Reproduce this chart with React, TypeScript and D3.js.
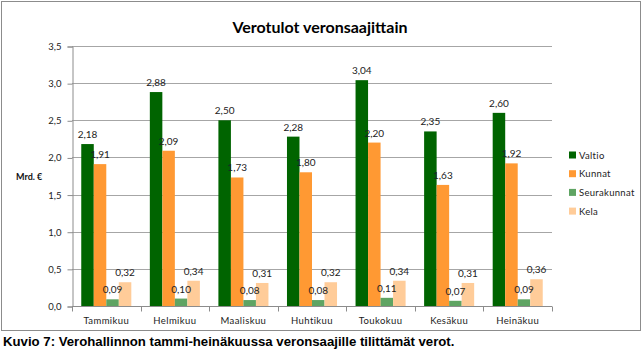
import * as d3 from "d3";
import React, { useRef, useEffect } from "react";

const months = ["Tammikuu", "Helmikuu", "Maaliskuu", "Huhtikuu", "Toukokuu", "Kesäkuu", "Heinäkuu"];
const seriesNames = ["Valtio", "Kunnat", "Seurakunnat", "Kela"];
const valtio = [2.18, 2.88, 2.5, 2.28, 3.04, 2.35, 2.6];
const kunnat = [1.91, 2.09, 1.73, 1.8, 2.2, 1.63, 1.92];
const seurakunnat = [0.09, 0.1, 0.08, 0.08, 0.11, 0.07, 0.09];
const kela = [0.32, 0.34, 0.31, 0.32, 0.34, 0.31, 0.36];
const yTicks = [0, 0.5, 1, 1.5, 2, 2.5, 3, 3.5];
const colors = ["#006400", "#ff9933", "#5fa463", "#ffcc99"];

function App() {
    const svgRef = useRef<SVGSVGElement>(null);
    const width = 644;
    const height = 351;
    const marginTop = 46; // top of plot
    const plotBottom = 306; // y of zero line
    const marginLeft = 72;
    const plotRight = 552;
    const font = "Lato, 'Open Sans', sans-serif";

    useEffect(() => {
        const svg = d3.select(svgRef.current);
        svg.selectAll("*").remove();

        const series = [valtio, kunnat, seurakunnat, kela];
        const fmt = (v: number) => v.toFixed(2).replace(".", ",");

        // frame
        svg.append("rect")
            .attr("x", 1.5).attr("y", 1.5)
            .attr("width", 639).attr("height", 329)
            .attr("fill", "white")
            .attr("stroke", "#8c8c8c")
            .attr("stroke-width", 1);

        const xScale = d3.scaleBand().domain(months).range([marginLeft, plotRight]);
        const xInner = d3.scaleBand().domain(seriesNames).range([0, xScale.bandwidth()]).paddingOuter(0.74);
        const yScale = d3.scaleLinear().domain([0, 3.5]).range([plotBottom, marginTop]);

        // gridlines
        svg.append("g")
            .selectAll("line")
            .data(yTicks.slice(1))
            .join("line")
            .attr("x1", marginLeft).attr("x2", plotRight)
            .attr("y1", d => Math.round(yScale(d)) + 0.5)
            .attr("y2", d => Math.round(yScale(d)) + 0.5)
            .attr("stroke", "#a6a6a6");

        // y axis
        const yAxis = d3.axisLeft(yScale)
            .tickValues(yTicks)
            .tickSize(5)
            .tickPadding(6)
            .tickFormat(d => (d as number).toFixed(1).replace(".", ","));
        const gy = svg.append("g")
            .attr("transform", `translate(${marginLeft + 0.5},0.5)`)
            .call(yAxis);
        gy.select(".domain").attr("stroke", "#8c8c8c");
        gy.selectAll(".tick line").attr("stroke", "#8c8c8c");
        gy.selectAll(".tick text")
            .attr("font-family", font)
            .attr("font-size", 9.5)
            .attr("fill", "#222");

        // x axis
        const gx = svg.append("g")
            .attr("transform", `translate(0,${plotBottom + 0.5})`);
        gx.append("line")
            .attr("x1", marginLeft).attr("x2", plotRight)
            .attr("stroke", "#8c8c8c");
        gx.selectAll(".xt")
            .data([...months, "end"])
            .join("line")
            .attr("class", "xt")
            .attr("x1", (d, i) => Math.round(marginLeft + i * xScale.step()) + 0.5)
            .attr("x2", (d, i) => Math.round(marginLeft + i * xScale.step()) + 0.5)
            .attr("y1", 0).attr("y2", 5)
            .attr("stroke", "#8c8c8c");
        gx.selectAll("text")
            .data(months)
            .join("text")
            .attr("x", d => xScale(d)! + xScale.bandwidth() / 2)
            .attr("y", 17)
            .attr("text-anchor", "middle")
            .attr("font-family", font)
            .attr("font-size", 9.5)
            .attr("letter-spacing", 0.4)
            .attr("fill", "#222")
            .text(d => d);

        // bars first, then all value labels on top
        const bars = svg.append("g");
        const labels = svg.append("g");
        series.forEach((vals, si) => {
            bars.append("g")
                .selectAll("rect")
                .data(vals)
                .join("rect")
                .attr("x", (v, i) => xScale(months[i])! + xInner(seriesNames[si])!)
                .attr("y", v => yScale(v))
                .attr("width", xInner.bandwidth())
                .attr("height", v => plotBottom - yScale(v))
                .attr("fill", colors[si]);
            labels.append("g")
                .selectAll("text")
                .data(vals)
                .join("text")
                .attr("x", (v, i) => xScale(months[i])! + xInner(seriesNames[si])! + xInner.bandwidth() / 2)
                .attr("y", v => yScale(v) - 6)
                .attr("text-anchor", "middle")
                .attr("font-family", font)
                .attr("font-size", 10)
                .attr("fill", "#222")
                .text(v => fmt(v));
        });

        // y title
        svg.append("text")
            .attr("x", 16).attr("y", 180)
            .attr("font-family", font)
            .attr("font-size", 9)
            .attr("font-weight", "bold")
            .attr("fill", "#111")
            .text("Mrd. €");

        // title
        svg.append("text")
            .attr("x", 320).attr("y", 33)
            .attr("text-anchor", "middle")
            .attr("font-family", font)
            .attr("font-size", 16)
            .attr("font-weight", "bold")
            .attr("fill", "#000")
            .text("Verotulot veronsaajittain");

        // legend
        const legend = svg.append("g")
            .selectAll("g")
            .data(seriesNames)
            .join("g")
            .attr("transform", (d, i) => `translate(569,${155 + i * 18.7})`);
        legend.append("rect")
            .attr("x", 0).attr("y", -3.5)
            .attr("width", 7).attr("height", 7)
            .attr("fill", (d, i) => colors[i]);
        legend.append("text")
            .attr("x", 10).attr("y", 3.5)
            .attr("font-family", font)
            .attr("font-size", 9.5)
            .attr("letter-spacing", 0.3)
            .attr("fill", "#222")
            .text(d => d);

        // caption
        svg.append("text")
            .attr("x", 3).attr("y", 346)
            .attr("font-family", "'Liberation Sans', Arial, sans-serif")
            .attr("font-size", 13.2)
            .attr("font-weight", "bold")
            .attr("fill", "#000")
            .text("Kuvio 7: Verohallinnon tammi-heinäkuussa  veronsaajille tilittämät verot.");
    }, []);

    return (
        <svg ref={svgRef} width={width} height={height}
            style={{ position: "absolute", left: 0, top: 0, display: "block" }} />
    );
}

export default App;
